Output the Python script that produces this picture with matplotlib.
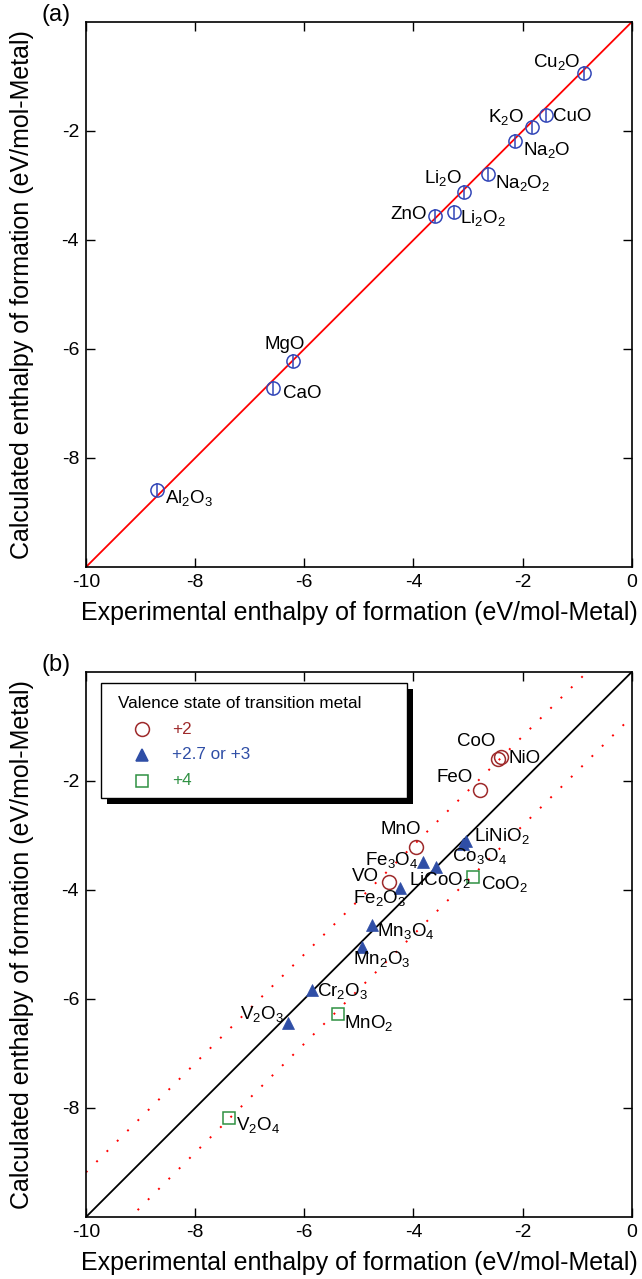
import re
import matplotlib
matplotlib.use('Agg')
import matplotlib.pyplot as plt
from matplotlib.patches import Rectangle

plt.rcParams['font.family'] = 'Liberation Sans'
plt.rcParams['mathtext.fontset'] = 'custom'
plt.rcParams['mathtext.rm'] = 'Liberation Sans'
plt.rcParams['mathtext.default'] = 'regular'
plt.rcParams['axes.unicode_minus'] = False

# (a) simple oxides: experimental vs calculated enthalpy (eV/mol-Metal)
oxides = ['Cu2O', 'CuO', 'K2O', 'Na2O', 'Na2O2', 'Li2O', 'Li2O2', 'ZnO', 'MgO', 'CaO', 'Al2O3']
oxide_exp = [-0.87, -1.58, -1.83, -2.14, -2.64, -3.08, -3.26, -3.61, -6.21, -6.58, -8.70]
oxide_calc = [-0.94, -1.71, -1.93, -2.18, -2.79, -3.12, -3.49, -3.56, -6.22, -6.72, -8.59]

# (b) transition metal oxides grouped by valence
val2_names = ['CoO', 'NiO', 'FeO', 'MnO', 'VO']
val2_exp = [-2.40, -2.45, -2.78, -3.96, -4.45]
val2_calc = [-1.56, -1.60, -2.17, -3.21, -3.85]

val3_names = ['Co3O4', 'LiNiO2', 'Fe3O4', 'LiCoO2', 'Fe2O3', 'Mn3O4', 'Mn2O3', 'Cr2O3', 'V2O3']
val3_exp = [-3.10, -3.03, -3.83, -3.59, -4.25, -4.76, -4.94, -5.86, -6.30]
val3_calc = [-3.16, -3.10, -3.49, -3.58, -3.96, -4.64, -5.05, -5.83, -6.44]

val4_names = ['CoO2', 'MnO2', 'V2O4']
val4_exp = [-2.91, -5.38, -7.38]
val4_calc = [-3.76, -6.28, -8.18]

band = 0.82

# label offsets in pixels from each point
offsets_a = {'Cu2O': (-27, 11), 'CuO': (27, -1), 'K2O': (-26, 10), 'Na2O': (32, -9),
             'Na2O2': (35, -9), 'Li2O': (-21, 14), 'Li2O2': (29, -6), 'ZnO': (-26, 2),
             'MgO': (-8, 16), 'CaO': (30, -5), 'Al2O3': (32, -8)}
offsets_b = {'CoO': (-25, 16), 'NiO': (27, 1), 'FeO': (-25, 13), 'MnO': (-15, 17),
             'VO': (-23, 5), 'Co3O4': (17, -12), 'LiNiO2': (35, 5), 'Fe3O4': (-31, 2),
             'LiCoO2': (4, -13), 'Fe2O3': (-20, -10), 'Mn3O4': (34, -6), 'Mn2O3': (20, -12),
             'Cr2O3': (31, -1), 'V2O3': (-26, 9), 'CoO2': (32, -7), 'MnO2': (31, -9),
             'V2O4': (29, -7)}

c_blue = '#3347b8'
c_red2 = '#9e2a2b'
c_tri = '#2f4ea6'
c_green = '#2f9143'


def chem(s):
    return re.sub(r'(\d)', r'$_{\1}$', s)


def label_points(ax, names, xs, ys, offs):
    for n, x, y in zip(names, xs, ys):
        ax.annotate(chem(n), (x, y), xytext=offs[n], textcoords='offset pixels',
                    ha='center', va='center', fontsize=13.5)


def style_axes(ax, tag):
    ax.set_xlim(-10, 0)
    ax.set_ylim(-10, 0)
    ax.set_xticks([-10, -8, -6, -4, -2, 0])
    ax.set_yticks([-8, -6, -4, -2])
    ax.tick_params(direction='in', length=6.5, width=1, labelsize=14, pad=5,
                   top=True, right=True)
    for sp in ax.spines.values():
        sp.set_linewidth(1.2)
    ax.set_xlabel('Experimental enthalpy of formation (eV/mol-Metal)', fontsize=18)
    ax.set_ylabel('Calculated enthalpy of formation (eV/mol-Metal)', fontsize=18)
    ax.xaxis.set_label_coords(0.5, -0.063)
    ax.yaxis.set_label_coords(-0.095, 0.5)
    ax.text(-0.055, 1.012, tag, transform=ax.transAxes, fontsize=17,
            ha='center', va='center')


fig = plt.figure(figsize=(6.42, 12.79), dpi=100)
ax1 = fig.add_axes([0.134, 0.5567, 0.850, 0.4261])
ax2 = fig.add_axes([0.134, 0.0485, 0.850, 0.4261])

# (a)
ax1.plot([-10, 0], [-10, 0], color='red', lw=1.3, zorder=1)
ax1.plot(oxide_exp, oxide_calc, 'o', ms=9.5, mfc='none', mec=c_blue, mew=1.1, zorder=3)
ax1.plot(oxide_exp, oxide_calc, '|', ms=9.5, mec=c_blue, mew=1.1, zorder=3)
label_points(ax1, oxides, oxide_exp, oxide_calc, offsets_a)
style_axes(ax1, '(a)')

# (b)
ax2.plot([-10, 0], [-10, 0], color='black', lw=1.3, zorder=1)
ax2.plot([-10, 0], [-10 + band, band], color='red', lw=1.4, ls=(0, (1, 6.5)), zorder=1)
ax2.plot([-10, 0], [-10 - band, -band], color='red', lw=1.4, ls=(0, (1, 6.5)), zorder=1)
ax2.plot(val2_exp, val2_calc, 'o', ms=10, mfc='none', mec=c_red2, mew=1.1, zorder=3)
ax2.plot(val3_exp, val3_calc, '^', ms=9, mfc=c_tri, mec=c_tri, mew=0.5, zorder=3)
ax2.plot(val4_exp, val4_calc, 's', ms=9, mfc='none', mec=c_green, mew=1.1, zorder=3)
label_points(ax2, val2_names, val2_exp, val2_calc, offsets_b)
label_points(ax2, val3_names, val3_exp, val3_calc, offsets_b)
label_points(ax2, val4_names, val4_exp, val4_calc, offsets_b)
style_axes(ax2, '(b)')

# legend box with a solid drop shadow
tr = ax2.transAxes
ax2.add_patch(Rectangle((0.038, 0.758), 0.561, 0.211, transform=tr, fc='black',
                        ec='black', lw=0, zorder=5, clip_on=False))
ax2.add_patch(Rectangle((0.027, 0.769), 0.561, 0.211, transform=tr, fc='white',
                        ec='black', lw=1.0, zorder=6, clip_on=False))
ax2.text(0.059, 0.943, 'Valence state of transition metal', transform=tr,
         fontsize=12.3, va='center', zorder=7)
legend_rows = [('o', 'none', c_red2, '+2', 0.895),
               ('^', c_tri, c_tri, '+2.7 or +3', 0.848),
               ('s', 'none', c_green, '+4', 0.800)]
for mk, fc, ec, txt, yy in legend_rows:
    ax2.plot([0.103], [yy], mk, transform=tr, ms=10 if mk == 'o' else 9, mfc=fc,
             mec=ec, mew=1.1, zorder=7, clip_on=False)
    ax2.text(0.158, yy, txt, transform=tr, fontsize=12.3, color=ec, va='center', zorder=7)

fig.savefig('out.png', dpi=100)
